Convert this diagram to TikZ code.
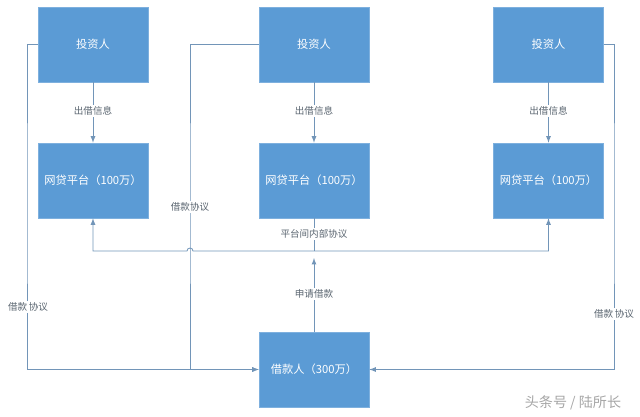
\documentclass[tikz,border=0pt]{standalone}
\usepackage{fontspec}
\setmainfont{Noto Sans CJK SC}
\usepackage{tikz}
\usetikzlibrary{arrows}
\tikzset{>=latex}
\definecolor{boxblue}{HTML}{5B9BD5}
\definecolor{boxedge}{HTML}{7EB0DE}
\definecolor{linegray}{HTML}{7295B8}
\definecolor{lblgray}{HTML}{5A6570}
\tikzset{
  box/.style={rectangle,fill=boxblue,draw=boxedge,line width=0.4pt,
    minimum width=2.75cm,minimum height=1.875cm,inner sep=0pt,
    text=white,font=\fontsize{8}{10}\selectfont},
  lbl/.style={fill=white,inner sep=1pt,text=lblgray,font=\fontsize{6.8}{8}\selectfont},
  flow/.style={draw=linegray,line width=0.6pt}
}

\begin{document}
\begin{tikzpicture}[x=0.025cm,y=-0.025cm]
    \useasboundingbox (0,0) rectangle (640,416);

    \node[box] (inv1) at (93,44.5) {投资人};
    \node[box] (inv2) at (314,44.5) {投资人};
    \node[box] (inv3) at (548.5,44.5) {投资人};
    \node[box] (plat1) at (93,180.5) {网贷平台（100万）};
    \node[box] (plat2) at (314,180.5) {网贷平台（100万）};
    \node[box] (plat3) at (548.5,180.5) {网贷平台（100万）};
    \node[box] (borrower) at (314,369.5) {借款人（300万）};

    \coordinate (lx) at (27,200);
    \coordinate (mx) at (190,200);
    \coordinate (rx) at (614,200);
    \coordinate (bar) at (0,251);
    \coordinate (ask) at (314,258);

    \draw[flow,->](inv1.south)--(plat1.north) node[lbl,midway,yshift=0.9pt]{出借信息};
    \draw[flow,->](inv2.south)--(plat2.north) node[lbl,midway,yshift=0.9pt]{出借信息};
    \draw[flow,->](inv3.south)--(plat3.north) node[lbl,midway,yshift=0.9pt]{出借信息};

    \draw[flow,->](inv1.west)-|(lx)|-(borrower.west);
    \draw[flow,->](inv2.west)-|(mx)|-(borrower.west);
    \draw[flow,->](inv3.east)-|(rx)|-(borrower.east);
    \node[lbl] (agr1) at (28,307) {借款\,协议};
    \node[lbl] (agr2) at (190,207) {借款协议};
    \node[lbl] (agr3) at (614,314) {借款\,协议};

    \draw[flow,<->](plat1.south)|-(187,251)
        arc[start angle=180,end angle=0,radius=0.075cm]
        -|(plat3.south);
    \draw[flow](plat2.south)--(plat2.south|-bar);
    \node[lbl] (inner) at (314,234) {平台间内部协议};

    \draw[flow,->](borrower.north)--(ask);
    \node[lbl] (apply) at (314,294) {申请借款};

    \node[text=black!35,font=\fontsize{10}{12}\selectfont] (mark) at (573,403) {头条号 / 陆所长};
\end{tikzpicture}
\end{document}
